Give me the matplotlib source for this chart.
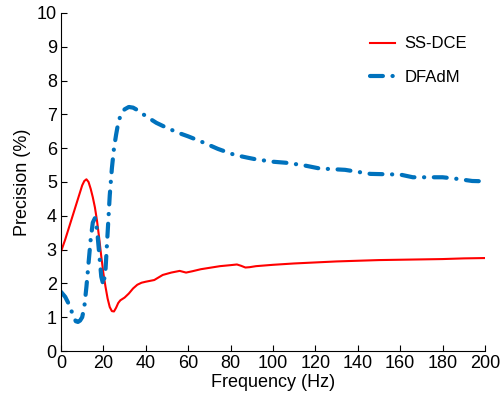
import matplotlib.pyplot as plt

plt.rcParams['font.family'] = ['Liberation Sans', 'DejaVu Sans']

# SS-DCE (red)
freq_ss = [0, 2, 4, 6, 8, 10, 11, 12, 13, 14, 15, 16, 17, 18, 19, 20, 21, 22, 23, 24,
           25, 26, 27, 28, 30, 32, 34, 36, 38, 40, 44, 48, 52, 56, 59, 62, 66, 70, 75,
           80, 83, 85, 87, 89, 92, 100, 110, 120, 130, 140, 150, 160, 170, 180, 190, 200]
prec_ss = [2.94, 3.3, 3.7, 4.1, 4.5, 4.9, 5.03, 5.08, 5.0, 4.8, 4.55, 4.25, 3.85, 3.35,
           2.8, 2.3, 1.9, 1.55, 1.3, 1.18, 1.17, 1.28, 1.42, 1.5, 1.58, 1.7, 1.85, 1.96,
           2.02, 2.05, 2.1, 2.25, 2.32, 2.37, 2.32, 2.36, 2.42, 2.46, 2.51, 2.54, 2.56,
           2.52, 2.47, 2.48, 2.51, 2.55, 2.59, 2.62, 2.65, 2.67, 2.69, 2.7, 2.71, 2.72,
           2.74, 2.75]

# DFAdM (blue)
freq_df = [0, 2, 4, 6, 7, 8, 9, 10, 11, 12, 13, 14, 15, 16, 17, 18, 19, 20, 21, 22, 23,
           24, 25, 26, 27, 28, 30, 32, 34, 36, 40, 45, 50, 56, 60, 66, 74, 82, 88, 92,
           100, 106, 114, 122, 134, 140, 146, 160, 166, 180, 186, 194, 200]
prec_df = [1.75, 1.6, 1.35, 1.0, 0.88, 0.86, 0.9, 1.0, 1.3, 1.9, 2.6, 3.3, 3.8, 3.93,
           3.6, 2.9, 2.2, 1.95, 2.4, 3.5, 4.6, 5.4, 6.0, 6.4, 6.75, 6.95, 7.15, 7.22,
           7.2, 7.13, 6.95, 6.75, 6.6, 6.44, 6.35, 6.2, 5.98, 5.8, 5.72, 5.67, 5.6,
           5.57, 5.5, 5.4, 5.36, 5.3, 5.24, 5.22, 5.14, 5.14, 5.1, 5.03, 5.02]

fig = plt.figure(figsize=(5.02, 4.0), dpi=100)
ax = fig.add_axes([0.1215, 0.1225, 0.8445, 0.845])

ax.plot(freq_ss, prec_ss, color='#ff0000', lw=1.5, label='SS-DCE')
ax.plot(freq_df, prec_df, color='#0072bd', lw=3.0, dashes=(3.1, 2.3, 0.05, 2.3),
        dash_capstyle='round', label='DFAdM')

ax.set_xlim(0, 200)
ax.set_ylim(0, 10)
ax.set_xticks(range(0, 201, 20))
ax.set_yticks(range(0, 11))
ax.spines['top'].set_visible(False)
ax.spines['right'].set_visible(False)
ax.tick_params(direction='in', length=4, labelsize=13, pad=3)
ax.set_xlabel('Frequency (Hz)', fontsize=13, labelpad=1)
ax.set_ylabel('Precision (%)', fontsize=13, labelpad=4)

ax.legend(loc='upper right', bbox_to_anchor=(0.993, 0.975), frameon=False, fontsize=12,
          handlelength=1.5, handletextpad=0.55, labelspacing=1.1)

fig.savefig('out.png', dpi=100)
